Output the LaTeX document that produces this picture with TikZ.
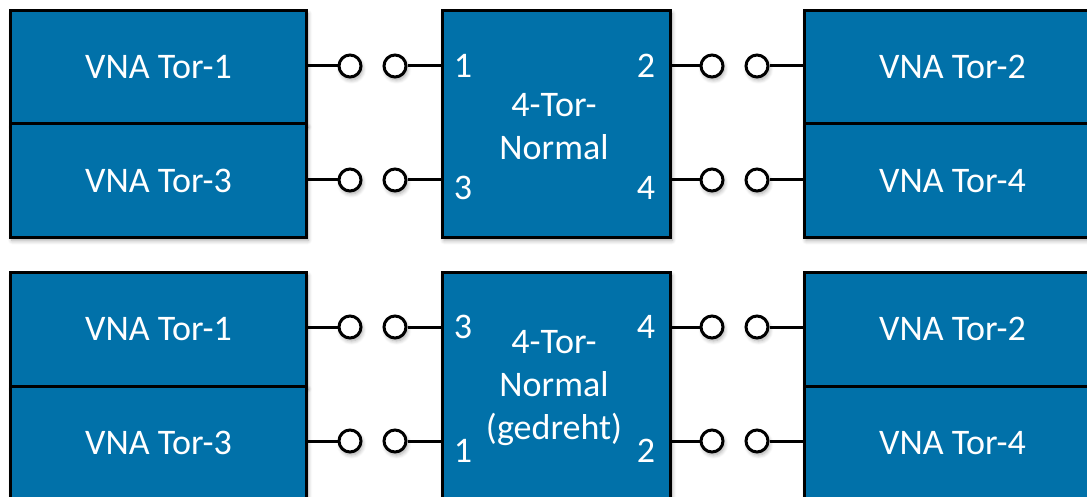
\documentclass[tikz,border=0pt]{standalone}
\usepackage{fontspec}
\setmainfont{Carlito}
\usetikzlibrary{shadows.blur}
\definecolor{boxblue}{HTML}{0171A9}
\tikzset{
  shd/.style={blur shadow={shadow xshift=1.5pt, shadow yshift=-3pt, shadow blur radius=4pt, shadow blur steps=6, shadow opacity=35}},
  vna/.style={draw, line width=3pt, fill=boxblue, text=white, anchor=north west,
    minimum width=296pt, minimum height=113.5pt, inner sep=0pt, font=\fontsize{36}{43}\selectfont, shd},
  dut/.style={draw, line width=3pt, fill=boxblue, text=white, anchor=north west,
    minimum width=228pt, minimum height=227pt, inner sep=0pt, shd},
  term/.style={circle, draw, line width=3pt, fill=white, minimum size=22pt, inner sep=0pt, shd},
  port/.style={text=white, font=\fontsize{36}{43}\selectfont, inner sep=0pt},
  mid/.style={text=white, font=\fontsize{36}{43}\selectfont, align=center, inner sep=0pt},
  wire/.style={line width=3pt}
}
\begin{document}
\begin{tikzpicture}[x=1pt,y=-1pt]
\useasboundingbox (0,0) rectangle (1087,497);
\clip (0,0) rectangle (1087,497);
% ---------- top row ----------
\node[vna] (a1) at (9,9) {VNA Tor-1};
\node[vna] (a3) at (9,122.5) {VNA Tor-3};
\node[dut] (am) at (441,9) {};
\node[vna] (a2) at (803,9) {VNA Tor-2};
\node[vna] (a4) at (803,122.5) {VNA Tor-4};
\node[term] (a1c1) at (350,66) {};
\node[term] (a1c2) at (395,66) {};
\node[term] (a3c1) at (350,180) {};
\node[term] (a3c2) at (395,180) {};
\node[term] (a2c1) at (712,66) {};
\node[term] (a2c2) at (757,66) {};
\node[term] (a4c1) at (712,180) {};
\node[term] (a4c2) at (757,180) {};
\draw[wire] (a1c1.west -| a1.east) -- (a1c1);
\draw[wire] (a1c2) -- (a1c2 -| am.west);
\draw[wire] (a3c1.west -| a3.east) -- (a3c1);
\draw[wire] (a3c2) -- (a3c2 -| am.west);
\draw[wire] (a2c1.west -| am.east) -- (a2c1);
\draw[wire] (a2c2) -- (a2c2 -| a2.west);
\draw[wire] (a4c1.west -| am.east) -- (a4c1);
\draw[wire] (a4c2) -- (a4c2 -| a4.west);
\node[port] (ap1) at (463,66) {1};
\node[port] (ap3) at (463,188) {3};
\node[port] (ap2) at (646,66) {2};
\node[port] (ap4) at (646,188) {4};
\node[mid] (at) at (554,127) {4-Tor-\\Normal};
% ---------- bottom row ----------
\node[vna] (b1) at (9,271) {VNA Tor-1};
\node[vna] (b3) at (9,384.5) {VNA Tor-3};
\node[dut] (bm) at (441,271) {};
\node[vna] (b2) at (803,271) {VNA Tor-2};
\node[vna] (b4) at (803,384.5) {VNA Tor-4};
\node[term] (b1c1) at (350,327) {};
\node[term] (b1c2) at (395,327) {};
\node[term] (b3c1) at (350,441) {};
\node[term] (b3c2) at (395,441) {};
\node[term] (b2c1) at (712,327) {};
\node[term] (b2c2) at (757,327) {};
\node[term] (b4c1) at (712,441) {};
\node[term] (b4c2) at (757,441) {};
\draw[wire] (b1c1.west -| b1.east) -- (b1c1);
\draw[wire] (b1c2) -- (b1c2 -| bm.west);
\draw[wire] (b3c1.west -| b3.east) -- (b3c1);
\draw[wire] (b3c2) -- (b3c2 -| bm.west);
\draw[wire] (b2c1.west -| bm.east) -- (b2c1);
\draw[wire] (b2c2) -- (b2c2 -| b2.west);
\draw[wire] (b4c1.west -| bm.east) -- (b4c1);
\draw[wire] (b4c2) -- (b4c2 -| b4.west);
\node[port] (bp3) at (463,327) {3};
\node[port] (bp4) at (646,327) {4};
\node[port] (bp1) at (463,451) {1};
\node[port] (bp2) at (646,451) {2};
\node[mid] (bt) at (554,388) {4-Tor-\\Normal\\(gedreht)};
\end{tikzpicture}
\end{document}
